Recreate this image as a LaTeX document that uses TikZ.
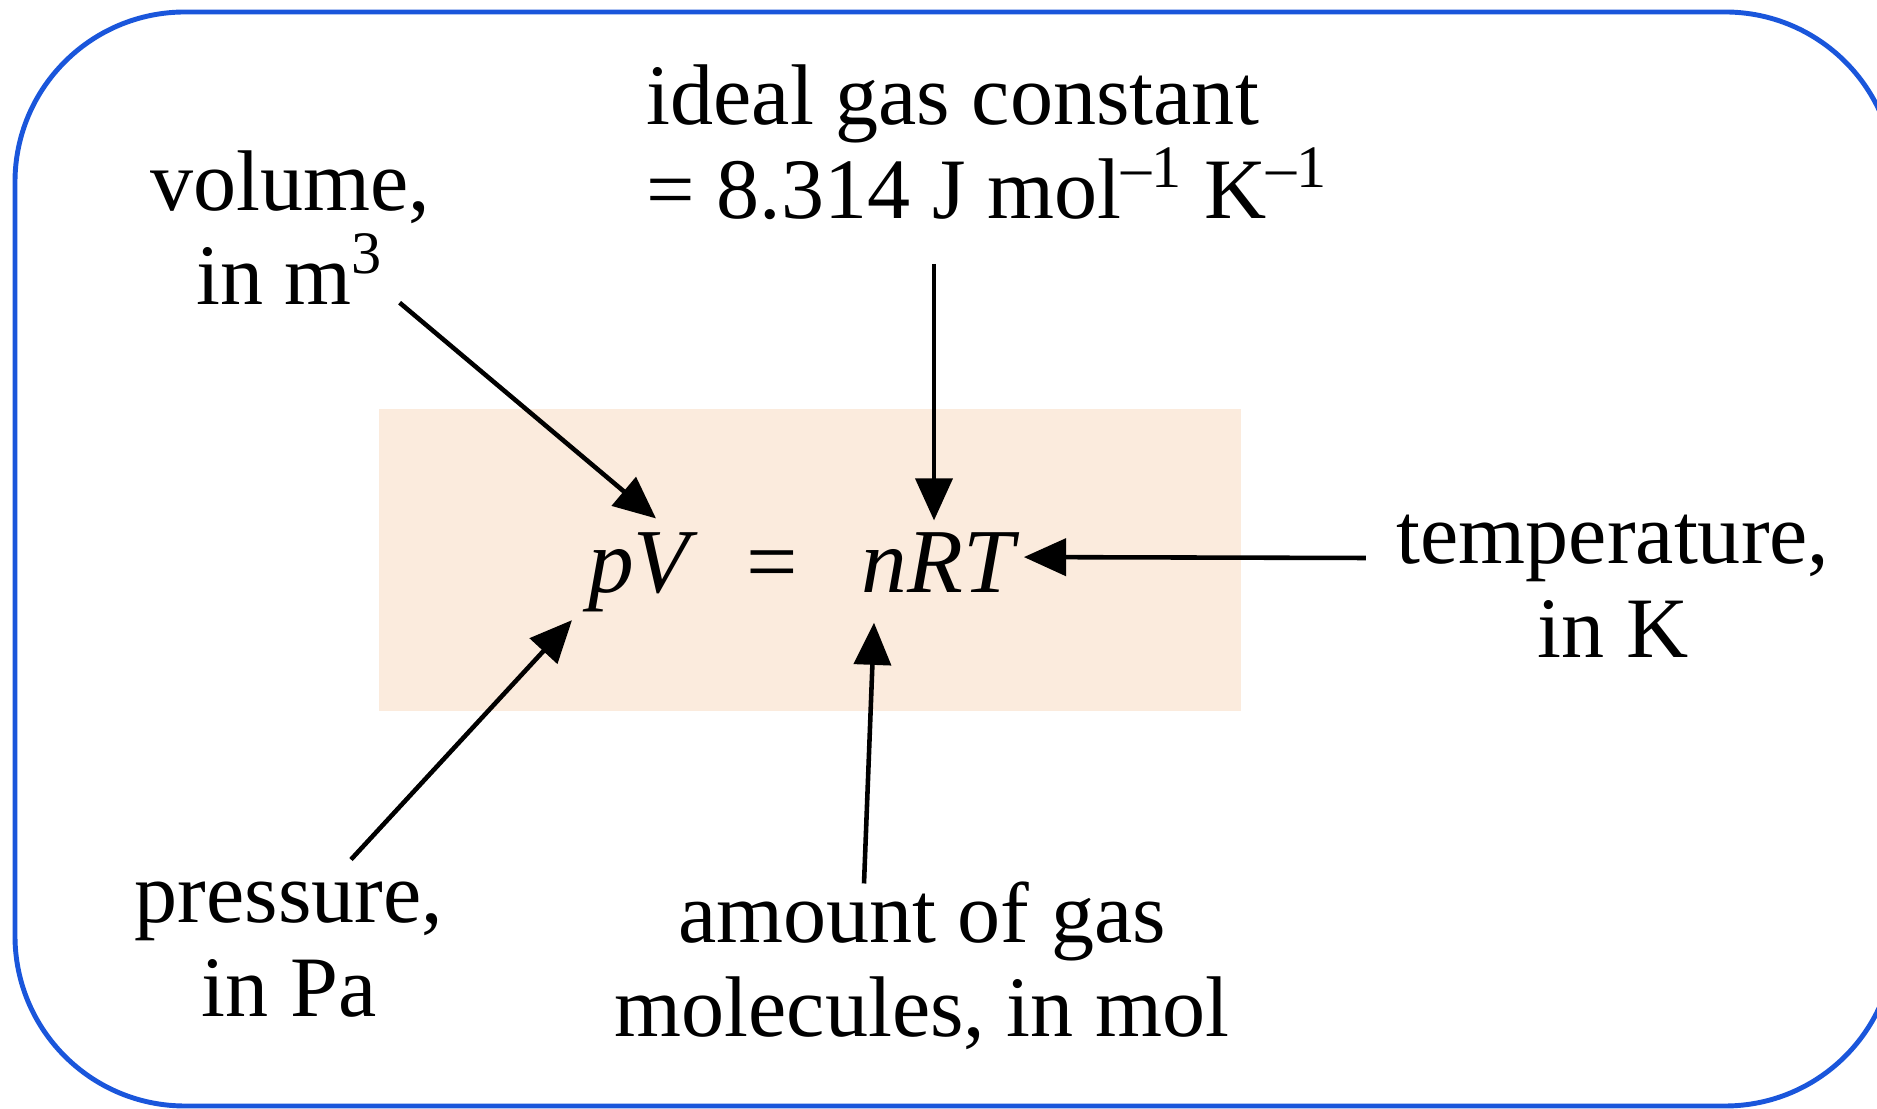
\documentclass[tikz,border=0pt]{standalone}
\usepackage{fontspec}
\setmainfont{Liberation Serif}
\usetikzlibrary{arrows.meta,calc}
\definecolor{Frame}{HTML}{1A56DB}
\definecolor{Sand}{HTML}{FBEBDD}

\begin{document}
\begin{tikzpicture}[
	note/.style={inner sep=0pt, align=center, anchor=base, font=\fontsize{24.5}{26.8}\selectfont},
	term/.style={inner sep=0pt, anchor=base, font=\fontsize{26}{30}\selectfont\itshape},
	arr/.style={-{Triangle[length=12pt,width=10.5pt]}, line width=1.3pt}
	]
	\useasboundingbox (0,0) rectangle (18.77,11.09);
	
	% ---------------------------------------------------------
	% FRAME AND BAND
	% ---------------------------------------------------------
	
	\draw[Frame, line width=1.4pt, rounded corners=1.7cm]
	(0.15,0.03) rectangle (18.95,10.97);
	
	\fill[Sand]
	(3.79,3.98) rectangle (12.41,7.00);
	
	% ---------------------------------------------------------
	% EQUATION
	% ---------------------------------------------------------
	
	\node[term] (pv) at (6.39,5.16) {pV};
	\node[term, font=\fontsize{26}{30}\selectfont] (eqs) at (7.72,5.16) {=};
	\node[term] (nrt) at (9.38,5.16) {nRT};
	
	% ---------------------------------------------------------
	% LABELS
	% ---------------------------------------------------------
	
	\node[note] (vol) at (2.90,8.04) {volume,\\in m\textsuperscript{3}};
	
	\node[note, align=left, anchor=base west] (gasconst) at (6.46,8.90)
	{ideal gas constant\\= 8.314 J mol\textsuperscript{\textendash1} K\textsuperscript{\textendash1}};
	
	\node[note] (temp) at (16.13,4.51) {temperature,\\in K};
	
	\node[note] (pres) at (2.89,0.92) {pressure,\\in Pa};
	
	\node[note] (amount) at (9.22,0.72) {amount of gas\\molecules, in mol};
	
	% ---------------------------------------------------------
	% ARROWS
	% ---------------------------------------------------------
	
	\draw[arr]
	([shift={(-0.31,0.03)}]vol.south east) -- ([shift={(0.17,0.14)}]pv.north);
	
	\draw[arr]
	($(gasconst.south -| nrt.north)+(-0.04,-0.43)$) -- ([shift={(-0.04,0.12)}]nrt.north);
	
	\draw[arr]
	([shift={(-0.30,1.00)}]temp.base west) -- ([shift={(0.09,0.06)}]nrt.east);
	
	\draw[arr]
	([shift={(-0.58,-0.02)}]amount.north) -- ([shift={(-0.64,-0.29)}]nrt.south);
	
	\draw[arr]
	([shift={(0.62,0.22)}]pres.north) -- ([shift={(-0.67,-0.07)}]pv.south);
	
\end{tikzpicture}
\end{document}
